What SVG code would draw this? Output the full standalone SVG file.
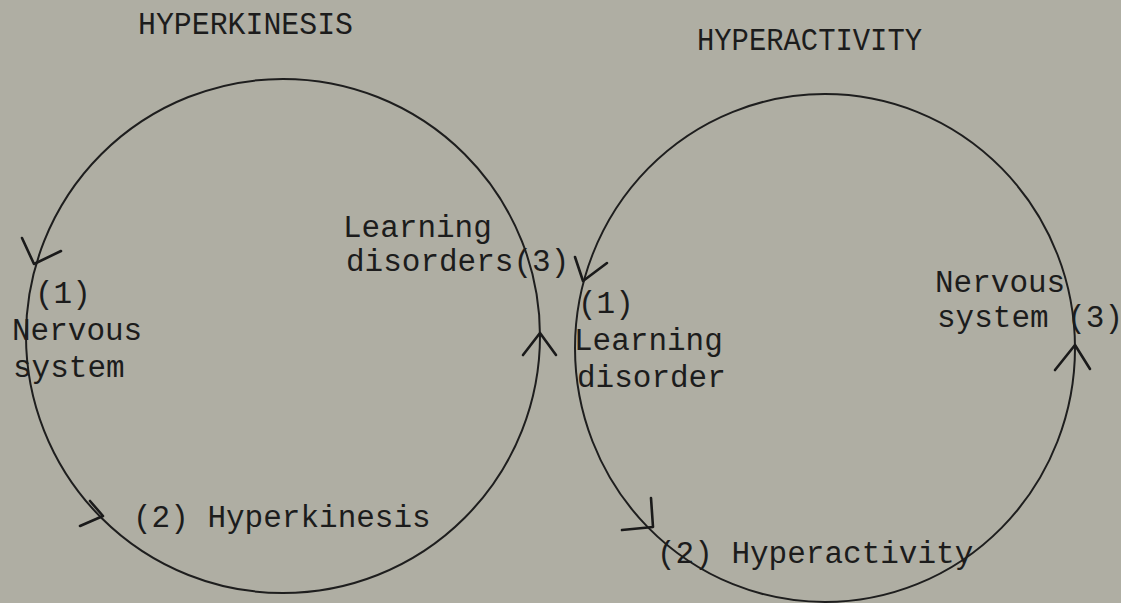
<svg xmlns="http://www.w3.org/2000/svg" width="1121" height="603" viewBox="0 0 1121 603">
<style>
.bg{fill:#afaea3}
.cyc{fill:none;stroke:#1e1e1e;stroke-width:2}
.arr{fill:none;stroke:#1a1a1a;stroke-width:2.6;stroke-linecap:round;stroke-linejoin:round}
text{font-family:"Liberation Mono","Courier New",monospace;fill:#1c1c1c}
.lbl{font-size:31px}
.ttl{font-size:31px}
</style>
<rect class="bg" x="0" y="0" width="1121" height="603"/>
<g id="connectors">
<circle class="cyc" cx="283" cy="336" r="257"/>
<ellipse class="cyc" cx="825" cy="348" rx="250" ry="254"/>
<path class="arr" d="M22,238 L34,264 L61,251"/>
<path class="arr" d="M90,501 L103,516 L80,526"/>
<path class="arr" d="M523,355 L540,333 L556,355"/>
<path class="arr" d="M575,257 L583,281 L607,263"/>
<path class="arr" d="M651,498 L653,527 L622,530"/>
<path class="arr" d="M1055,370 L1075,345 L1090,369"/>
</g>
<g id="title-hyperkinesis"><text class="ttl" x="138" y="34" textLength="215" lengthAdjust="spacingAndGlyphs">HYPERKINESIS</text></g>
<g id="title-hyperactivity"><text class="ttl" x="697" y="50" textLength="225" lengthAdjust="spacingAndGlyphs">HYPERACTIVITY</text></g>
<g id="hk-nervous-system">
<text class="lbl" x="35" y="303">(1)</text>
<text class="lbl" x="12" y="340">Nervous</text>
<text class="lbl" x="13" y="377">system</text>
</g>
<g id="hk-hyperkinesis"><text class="lbl" x="133" y="527">(2) Hyperkinesis</text></g>
<g id="hk-learning-disorders">
<text class="lbl" x="343" y="237">Learning</text>
<text class="lbl" x="346" y="271">disorders(3)</text>
</g>
<g id="ha-learning-disorder">
<text class="lbl" x="578" y="313">(1)</text>
<text class="lbl" x="574" y="350">Learning</text>
<text class="lbl" x="577" y="387">disorder</text>
</g>
<g id="ha-hyperactivity"><text class="lbl" x="657" y="563">(2) Hyperactivity</text></g>
<g id="ha-nervous-system">
<text class="lbl" x="935" y="292">Nervous</text>
<text class="lbl" x="937" y="327">system (3)</text>
</g>
</svg>
